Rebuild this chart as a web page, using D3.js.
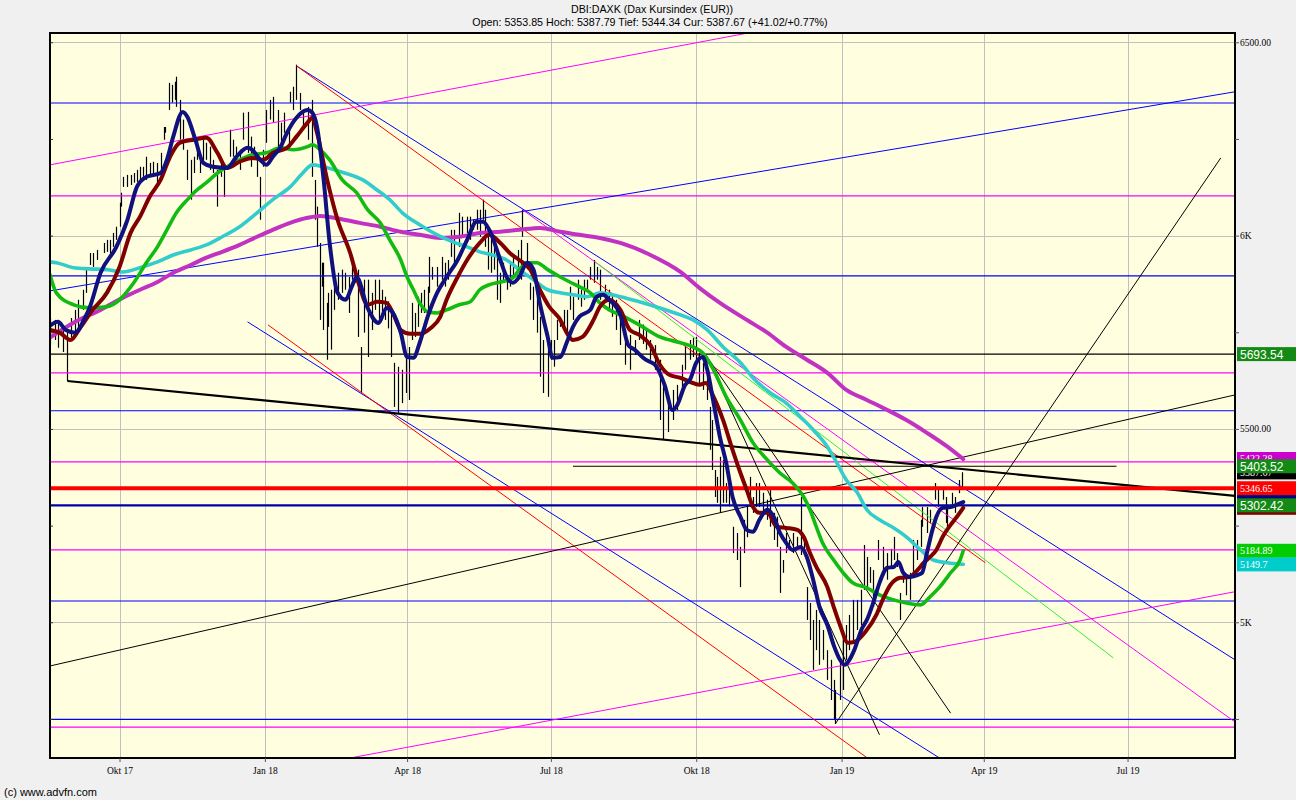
<!DOCTYPE html>
<html><head><meta charset="utf-8">
<script src="https://cdn.jsdelivr.net/npm/d3@7"></script>
<style>
body{margin:0;background:#f0f0f0;}
svg{display:block;}
</style></head><body>
<svg id="chart" width="1296" height="800"></svg>
<script>
// ---------- DATA ----------
const titleText = "DBI:DAXK (Dax Kursindex (EUR))";
const subtitleText = "Open: 5353.85 Hoch: 5387.79 Tief: 5344.34 Cur: 5387.67 (+41.02/+0.77%)";
const footerText = "(c) www.advfn.com";
const startDate = "2017-08-18";
const endDate = "2019-09-07";
const yMin = 4649, yMax = 6524;
const xTickDates = ["2017-10-01","2018-01-01","2018-04-01","2018-07-01","2018-10-01","2019-01-01","2019-04-01","2019-07-01"];
const xTickLabels = ["Okt 17","Jan 18","Apr 18","Jul 18","Okt 18","Jan 19","Apr 19","Jul 19"];
const yTickValues = [4750,5000,5250,5500,5750,6000,6250,6500];
const yLabelValues = [5000,5500,6000,6500];
const yLabelTexts = ["5K","5500.00","6K","6500.00"];

// bars: [day offset from startDate, high, low]
const bars = [[0,5787,5717],[3,5782,5730],[5,5777,5710],[8,5769,5699],[11,5756,5624],[13,5787,5736],[16,5808,5743],[18,5834,5756],[21,5860,5808],[23,5917,5852],[25,5955,5924],[27,5955,5919],[30,5963,5937],[34,5981,5955],[36,5989,5958],[38,5989,5955],[40,6007,5971],[42,6023,5989],[44,6085,6023],[45,6111,6075],[46,6152,6126],[49,6157,6126],[51,6157,6131],[53,6162,6137],[55,6170,6139],[57,6178,6144],[59,6178,6152],[61,6204,6144],[63,6188,6152],[65,6191,6152],[68,6188,6137],[70,6214,6170],[72,6281,6248],[73,6281,6266],[75,6395,6325],[77,6390,6344],[79,6398,6351],[80,6411,6333],[82,6351,6248],[84,6300,6222],[87,6222,6144],[89,6196,6093],[91,6204,6162],[93,6248,6196],[95,6214,6162],[97,6248,6188],[99,6240,6196],[101,6230,6170],[103,6196,6162],[106,6170,6075],[108,6188,6152],[110,6178,6100],[114,6274,6204],[116,6248,6204],[118,6230,6196],[120,6222,6170],[122,6318,6248],[125,6320,6214],[127,6256,6178],[129,6230,6196],[131,6204,6152],[133,6152,6041],[135,6222,6178],[137,6325,6240],[139,6351,6300],[141,6359,6292],[144,6325,6230],[146,6292,6240],[148,6318,6266],[151,6281,6230],[152,6372,6344],[154,6385,6325],[156,6442,6351],[158,6369,6325],[160,6325,6281],[163,6333,6248],[166,6351,6152],[168,6144,6041],[169,6075,5971],[171,5981,5782],[172,5930,5868],[173,5930,5756],[175,5826,5679],[176,5852,5764],[178,5860,5705],[180,5893,5808],[182,5904,5834],[185,5912,5852],[187,5904,5860],[189,5893,5800],[191,5945,5886],[193,5919,5878],[195,5912,5738],[197,5712,5593],[199,5886,5749],[201,5886,5686],[204,5852,5756],[206,5886,5808],[208,5886,5782],[210,5860,5790],[212,5842,5782],[214,5830,5760],[216,5808,5686],[218,5671,5557],[220,5661,5542],[223,5653,5567],[225,5697,5593],[227,5712,5575],[229,5826,5730],[231,5800,5738],[233,5842,5764],[235,5852,5800],[237,5860,5800],[239,5868,5808],[240,5945,5852],[242,5919,5886],[245,5919,5868],[248,5945,5886],[250,5930,5868],[252,5937,5886],[254,6015,5945],[256,6015,5919],[259,6059,5971],[261,6049,5997],[264,6049,6007],[266,6049,5989],[268,6041,6015],[270,6067,6015],[272,6067,5997],[274,6093,6041],[275,6067,5971],[277,6015,5912],[279,6007,5904],[281,5971,5912],[283,5963,5834],[285,5904,5826],[287,5930,5878],[289,5893,5860],[291,5930,5868],[293,5945,5893],[296,5963,5904],[298,5989,5886],[299,6067,5997],[302,5981,5919],[304,5878,5834],[306,5868,5782],[308,5842,5749],[310,5790,5635],[312,5730,5593],[315,5705,5583],[317,5730,5679],[319,5730,5661],[321,5782,5730],[323,5790,5764],[325,5808,5764],[327,5808,5730],[329,5868,5808],[331,5842,5782],[334,5886,5834],[336,5860,5816],[338,5886,5834],[340,5886,5860],[342,5919,5886],[344,5937,5878],[346,5919,5886],[348,5912,5834],[351,5873,5834],[354,5860,5808],[356,5850,5790],[358,5834,5756],[361,5808,5717],[364,5756,5666],[367,5743,5653],[370,5730,5692],[373,5782,5730],[375,5770,5720],[377,5756,5705],[380,5730,5679],[383,5717,5653],[386,5679,5523],[388,5627,5472],[391,5588,5492],[394,5601,5523],[397,5614,5549],[400,5666,5588],[402,5717,5653],[405,5730,5679],[407,5736,5686],[409,5738,5671],[411,5697,5619],[413,5671,5601],[416,5653,5575],[418,5557,5446],[419,5523,5394],[421,5394,5324],[422,5376,5309],[424,5428,5283],[426,5420,5309],[428,5360,5309],[430,5380,5300],[432,5247,5179],[435,5231,5161],[437,5195,5091],[439,5265,5179],[441,5300,5220],[443,5376,5298],[445,5324,5283],[447,5360,5298],[449,5360,5298],[451,5335,5283],[454,5317,5265],[456,5342,5247],[458,5283,5213],[460,5273,5195],[462,5195,5076],[464,5161,5128],[466,5231,5179],[468,5213,5187],[470,5231,5179],[473,5221,5187],[475,5324,5174],[477,5213,5179],[479,5091,5006],[481,5050,4954],[483,5006,4877],[485,5032,4928],[487,5006,4890],[489,4980,4903],[492,4928,4851],[494,4903,4799],[496,4851,4747],[497,4825,4737],[500,4903,4799],[502,4954,4825],[504,4993,4903],[506,5019,4928],[508,5058,4954],[511,5058,4980],[513,5084,4993],[515,5200,5084],[517,5169,5091],[519,5143,5102],[521,5135,5040],[524,5213,5161],[527,5195,5128],[530,5179,5110],[532,5190,5140],[534,5221,5161],[536,5179,5143],[538,5076,5006],[540,5128,5102],[542,5120,5070],[544,5128,5058],[546,5213,5128],[549,5213,5161],[551,5265,5195],[552,5298,5247],[555,5298,5231],[557,5291,5257],[560,5360,5317],[562,5350,5298],[565,5342,5317],[567,5324,5257],[568,5298,5247],[571,5335,5298],[573,5324,5283],[575,5368,5334],[577,5388,5344]];

// moving averages: [day offset, value]
const maFast = [[0,5767],[5,5777],[10,5756],[16,5749],[22,5787],[25,5813],[32,5904],[42,5971],[49,6041],[55,6126],[61,6152],[70,6162],[74,6196],[78,6256],[84,6320],[87,6307],[92,6248],[97,6188],[103,6178],[112,6175],[118,6204],[125,6227],[128,6222],[133,6196],[137,6183],[141,6204],[146,6230],[150,6266],[156,6305],[163,6325],[166,6318],[169,6281],[173,6152],[177,5981],[182,5852],[187,5834],[191,5868],[194,5893],[201,5813],[208,5774],[213,5813],[217,5800],[222,5749],[226,5686],[230,5684],[234,5723],[239,5790],[245,5852],[251,5893],[258,5937],[264,5989],[270,6036],[274,6036],[278,6015],[285,5937],[289,5893],[293,5878],[297,5893],[302,5930],[306,5912],[310,5826],[315,5738],[318,5684],[323,5686],[327,5723],[331,5764],[335,5790],[342,5808],[346,5842],[350,5847],[354,5834],[361,5795],[366,5717],[370,5705],[377,5679],[383,5666],[389,5614],[394,5549],[397,5562],[402,5614],[405,5627],[409,5671],[413,5686],[416,5653],[420,5567],[424,5479],[428,5412],[432,5324],[437,5273],[441,5239],[445,5234],[449,5265],[454,5291],[458,5273],[462,5231],[466,5205],[470,5187],[475,5195],[479,5169],[483,5110],[487,5040],[492,4993],[496,4941],[500,4903],[503,4890],[506,4903],[509,4928],[514,4985],[517,5006],[521,5050],[525,5102],[530,5141],[534,5143],[537,5156],[540,5128],[544,5117],[549,5122],[552,5128],[555,5179],[558,5231],[561,5273],[565,5296],[570,5298],[574,5304],[578,5311]];
const maMid = [[0,5756],[6,5749],[13,5730],[19,5761],[27,5808],[36,5852],[44,5919],[51,6007],[57,6049],[63,6100],[70,6144],[76,6204],[82,6240],[91,6248],[99,6253],[106,6214],[112,6175],[120,6191],[128,6201],[135,6196],[141,6214],[150,6227],[156,6256],[163,6292],[166,6305],[169,6266],[175,6152],[182,6041],[190,5955],[196,5868],[201,5821],[207,5829],[213,5826],[217,5800],[222,5756],[228,5746],[234,5746],[241,5761],[247,5790],[251,5834],[258,5893],[264,5937],[272,5981],[278,6002],[285,5981],[291,5955],[297,5937],[304,5912],[310,5860],[316,5816],[323,5782],[327,5749],[331,5730],[337,5738],[344,5782],[348,5816],[354,5834],[361,5808],[367,5756],[373,5743],[380,5717],[386,5666],[392,5640],[399,5632],[405,5622],[411,5614],[415,5619],[420,5583],[426,5523],[432,5446],[437,5386],[441,5342],[445,5298],[449,5283],[454,5283],[460,5247],[466,5244],[473,5239],[477,5221],[481,5179],[485,5143],[492,5091],[496,5040],[500,4993],[505,4947],[509,4949],[516,4975],[523,5019],[527,5058],[532,5097],[538,5115],[544,5117],[549,5135],[553,5154],[557,5169],[561,5187],[565,5221],[570,5252],[574,5273],[578,5296]];
const ma50 = [[0,5899],[4,5852],[15,5821],[25,5813],[36,5816],[44,5834],[53,5878],[61,5930],[68,5971],[74,6015],[80,6059],[87,6093],[93,6118],[99,6137],[106,6162],[112,6178],[120,6196],[128,6209],[137,6214],[146,6227],[154,6222],[163,6230],[166,6235],[171,6222],[177,6196],[185,6144],[194,6111],[201,6067],[209,6033],[215,5989],[222,5937],[226,5893],[230,5860],[234,5826],[239,5803],[245,5800],[251,5808],[259,5821],[266,5829],[272,5860],[278,5873],[285,5880],[293,5891],[297,5912],[302,5930],[308,5930],[315,5912],[323,5893],[329,5880],[335,5868],[342,5852],[348,5826],[354,5808],[361,5795],[373,5769],[386,5738],[399,5723],[407,5712],[413,5697],[420,5653],[428,5583],[437,5523],[445,5464],[454,5420],[462,5386],[470,5360],[477,5324],[481,5291],[485,5247],[489,5205],[496,5161],[502,5128],[508,5102],[517,5089],[525,5071],[534,5058],[542,5050],[551,5045],[557,5066],[563,5091],[570,5128],[576,5161],[578,5185]];
const ma100 = [[0,5932],[4,5930],[15,5917],[25,5914],[36,5912],[46,5906],[57,5917],[68,5932],[78,5950],[89,5963],[99,5976],[109,5997],[120,6023],[131,6059],[141,6093],[152,6126],[160,6162],[166,6183],[173,6178],[184,6165],[198,6144],[207,6118],[215,6093],[223,6059],[234,6028],[245,6002],[255,5984],[264,5971],[272,5958],[280,5950],[289,5937],[297,5912],[306,5886],[315,5860],[323,5852],[331,5847],[340,5842],[348,5852],[361,5842],[373,5829],[386,5813],[399,5795],[407,5782],[416,5756],[426,5712],[437,5671],[445,5632],[456,5593],[466,5567],[475,5531],[483,5498],[492,5454],[498,5412],[504,5368],[511,5335],[517,5291],[525,5265],[534,5244],[542,5221],[551,5187],[559,5161],[568,5154],[578,5150]];
const ma200 = [[0,5736],[16,5777],[32,5808],[46,5839],[57,5860],[68,5880],[78,5904],[89,5924],[99,5943],[109,5958],[120,5976],[131,5997],[141,6015],[152,6033],[163,6046],[171,6051],[184,6043],[196,6033],[209,6023],[222,6010],[234,6002],[247,5994],[259,5997],[272,6007],[285,6010],[297,6015],[310,6020],[323,6010],[335,6002],[348,5994],[361,5981],[380,5950],[399,5906],[411,5865],[424,5826],[441,5782],[454,5749],[466,5712],[479,5679],[492,5645],[504,5601],[517,5575],[530,5549],[542,5523],[555,5490],[568,5454],[578,5422]];

// horizontal support / resistance levels
const blueLevels = [6343, 5896, 5547, 5055, 4749];
const magentaLevels = [6103, 5645, 5415, 5187, 4729];
const blackLevels = [5693.54];
const redLevels = [5346.65];
const navyLevels = [5302.42];

// trend lines: [[day, value],[day, value]]
const blueTrends = [[[0,5857],[750,6372]], [[156,6439],[750,4903]], [[125,5777],[563,4649]]];
const redTrends = [[[156,6439],[592,5154]], [[138,5769],[519,4644]]];
const magentaTrends = [[[0,6183],[443,6525]], [[299,6067],[750,4742]], [[190,4649],[750,5079]]];
const greenTrends = [[[345,5932],[673,4908]]];
const blackTrends = [[[0,4887],[750,5588]], [[415,5692],[570,4765]], [[415,5692],[525,4709]], [[497,4737],[741,6201]], [[331,5403.52],[675,5403.52]]];
const thickBlackTrends = [[[11,5624],[750,5327]]];

// right-hand price tags (drawn in this order)
const tagValues = [5693.54, 5422.28, 5387.67, 5403.52, 5346.65, 5310.9, 5296.1, 5302.42, 5184.89, 5149.7];
const tagTexts = ["5693.54","5422.28","5387.67","5403.52","5346.65","5310.90","5296.10","5302.42","5184.89","5149.7"];

// ---------- STYLES ----------
const tagColors = ["#138a13","#cc00cc","#000000","#138a13","#ff0000","#000080","#800000","#138a13","#00cc00","#00cccc"];
const tagBig = [true,false,false,true,false,false,false,true,false,false];

// ---------- CHART ----------
const W = 1296, H = 800;
const P = {left:50, top:33, right:1235, bottom:758};
const parse = d3.utcParse("%Y-%m-%d");
const t0 = parse(startDate);
const dt = d => new Date(t0.getTime() + d * 86400000);

const x = d3.scaleUtc().domain([parse(startDate), parse(endDate)]).range([P.left, P.right]);
const y = d3.scaleLinear().domain([yMin, yMax]).range([P.bottom, P.top]);

const svg = d3.select("#chart");
svg.append("rect").attr("width", W).attr("height", H).attr("fill", "#f0f0f0");
svg.append("rect").attr("x", P.left).attr("y", P.top).attr("width", P.right - P.left).attr("height", P.bottom - P.top).attr("fill", "#ffffe0");

svg.append("defs").append("clipPath").attr("id", "clip")
  .append("rect").attr("x", P.left).attr("y", P.top).attr("width", P.right - P.left).attr("height", P.bottom - P.top);

const g = svg.append("g").attr("clip-path", "url(#clip)");

// grid
g.selectAll(".vg").data(xTickDates).enter().append("line")
  .attr("x1", d => Math.round(x(parse(d))) + 0.5).attr("x2", d => Math.round(x(parse(d))) + 0.5)
  .attr("y1", P.top).attr("y2", P.bottom).attr("stroke", "#c0c0c0").attr("stroke-width", 1);
g.selectAll(".hg").data(yLabelValues).enter().append("line")
  .attr("x1", P.left).attr("x2", P.right)
  .attr("y1", d => Math.round(y(d)) + 0.5).attr("y2", d => Math.round(y(d)) + 0.5)
  .attr("stroke", "#c0c0c0").attr("stroke-width", 1);

// bars
g.selectAll(".bar").data(bars).enter().append("line")
  .attr("x1", d => Math.round(x(dt(d[0]))) + 0.5).attr("x2", d => Math.round(x(dt(d[0]))) + 0.5)
  .attr("y1", d => y(d[1])).attr("y2", d => y(d[2]))
  .attr("stroke", "#000").attr("stroke-width", 1.2);

// horizontal levels
function hLevels(arr, color, width) {
  g.selectAll(null).data(arr).enter().append("line")
    .attr("x1", P.left).attr("x2", P.right)
    .attr("y1", d => y(d)).attr("y2", d => y(d))
    .attr("stroke", color).attr("stroke-width", width);
}
hLevels(blueLevels, "#0000ff", 1.2);
hLevels(magentaLevels, "#ff00ff", 1.2);
hLevels(blackLevels, "#000000", 1.2);

// trend lines
function trends(arr, color, width) {
  g.selectAll(null).data(arr).enter().append("line")
    .attr("x1", d => x(dt(d[0][0]))).attr("y1", d => y(d[0][1]))
    .attr("x2", d => x(dt(d[1][0]))).attr("y2", d => y(d[1][1]))
    .attr("stroke", color).attr("stroke-width", width);
}
trends(blueTrends, "#0000ff", 1);
trends(redTrends, "#ff0000", 1);
trends(magentaTrends, "#ff00ff", 1);
trends(greenTrends, "#33ee33", 1);
trends(blackTrends, "#000000", 1);
trends(thickBlackTrends, "#000000", 2.2);

hLevels(redLevels, "#ff0000", 4);
hLevels(navyLevels, "#0000aa", 2.4);

// moving averages
const line = d3.line().x(d => x(dt(d[0]))).y(d => y(d[1])).curve(d3.curveMonotoneX);
const maList = [[ma200, "#c232c2", 4], [ma100, "#33cccc", 3.6], [ma50, "#11bb11", 3.6], [maMid, "#800000", 4], [maFast, "#10107e", 4]];
maList.forEach(([data, color, w]) => {
  g.append("path").datum(data).attr("d", line).attr("fill", "none")
    .attr("stroke", color).attr("stroke-width", w).attr("stroke-linejoin", "round").attr("stroke-linecap", "round");
});

// frame
svg.append("rect").attr("x", P.left).attr("y", P.top).attr("width", P.right - P.left).attr("height", P.bottom - P.top)
  .attr("fill", "none").attr("stroke", "#000").attr("stroke-width", 2);

// right axis
const yAxis = d3.axisRight(y).tickValues(yTickValues).tickSize(4)
  .tickFormat(v => { const i = yLabelValues.indexOf(v); return i >= 0 ? yLabelTexts[i] : ""; });
const ya = svg.append("g").attr("transform", `translate(${P.right},0)`).call(yAxis);
ya.select(".domain").remove();
ya.selectAll("text").attr("font-family", "Liberation Serif").attr("font-size", 9.5).attr("fill", "#000").attr("x", 5);
ya.selectAll("line").attr("stroke", "#555");

// left ticks
svg.append("g").attr("transform", `translate(${P.left},0)`)
  .call(d3.axisLeft(y).tickValues(yTickValues).tickSize(-3).tickFormat(""))
  .call(s => s.select(".domain").remove()).selectAll("line").attr("stroke", "#333");

// bottom axis
const xAxis = d3.axisBottom(x).tickValues(xTickDates.map(parse)).tickSize(4)
  .tickFormat((d, i) => xTickLabels[i]);
const xa = svg.append("g").attr("transform", `translate(0,${P.bottom})`).call(xAxis);
xa.select(".domain").remove();
xa.selectAll("text").attr("font-family", "Liberation Serif").attr("font-size", 9.5).attr("fill", "#000").attr("dy", "0.9em");
xa.selectAll("line").attr("stroke", "#555");

// price tags
const tg = svg.append("g");
tagValues.forEach((v, i) => {
  const cy = y(v);
  const h = 14;
  tg.append("rect").attr("x", 1237).attr("y", cy - h / 2).attr("width", 59).attr("height", h)
    .attr("fill", tagColors[i]);
  tg.append("text").attr("x", 1240).attr("y", cy + (tagBig[i] ? 4.5 : 3.5))
    .attr("font-family", tagBig[i] ? "Liberation Sans" : "Liberation Serif")
    .attr("font-size", tagBig[i] ? 12 : 10)
    .attr("fill", "#fff").text(tagTexts[i]);
});

// titles
svg.append("text").attr("x", 652).attr("y", 12.5).attr("text-anchor", "middle")
  .attr("font-family", "Liberation Sans").attr("font-size", 10.7).attr("fill", "#000").text(titleText);
svg.append("text").attr("x", 650).attr("y", 26).attr("text-anchor", "middle")
  .attr("font-family", "Liberation Sans").attr("font-size", 10.7).attr("fill", "#000").text(subtitleText);
svg.append("text").attr("x", 4).attr("y", 796)
  .attr("font-family", "Liberation Sans").attr("font-size", 11).attr("fill", "#000").text(footerText);
</script>
</body></html>
